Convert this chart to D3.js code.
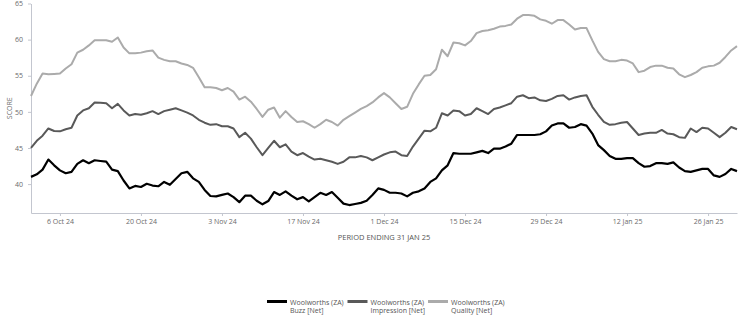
<!DOCTYPE html>
<html lang="en">

<head>
	<meta charset="UTF-8">
	<title>woolworths scores</title>
	<script src="https://cdn.jsdelivr.net/npm/d3@7" charset="UTF-8"></script>
	<style>
		body { margin: 0; background: #fff; }
		text { font-family: "Open Sans", sans-serif; }
	</style>
</head>

<body>
	<div id="chart"></div>

	<script type="text/javascript">
	// daily values, 1 Oct 24 .. 31 Jan 25
	let startDate = '2024-10-01';
	let endDate = '2025-01-31';

	let buzz = [
		41.0, 41.35, 42.0, 43.4, 42.6, 41.9, 41.5, 41.7, 42.8, 43.3,
		42.9, 43.3, 43.2, 43.1, 42.0, 41.8, 40.5, 39.4, 39.75, 39.6,
		40.05, 39.8, 39.7, 40.3, 39.9, 40.7, 41.5, 41.7, 40.8, 40.3,
		39.2, 38.35, 38.3, 38.5, 38.7, 38.2, 37.5, 38.4, 38.4, 37.7,
		37.2, 37.65, 38.9, 38.5, 39.0, 38.4, 37.9, 38.2, 37.6, 38.2,
		38.8, 38.5, 38.9, 38.1, 37.3, 37.1, 37.25, 37.4, 37.7, 38.5,
		39.4, 39.2, 38.8, 38.8, 38.7, 38.3, 38.8, 39.0, 39.4, 40.3,
		40.8, 41.9, 42.6, 44.3, 44.2, 44.2, 44.2, 44.4, 44.6, 44.3,
		44.9, 44.9, 45.2, 45.6, 46.8, 46.8, 46.8, 46.8, 46.9, 47.3,
		48.1, 48.4, 48.4, 47.8, 47.9, 48.3, 48.1, 47.0, 45.4, 44.7,
		43.9, 43.5, 43.5, 43.6, 43.6, 42.9, 42.4, 42.5, 42.9, 42.9,
		42.8, 43.0, 42.3, 41.8, 41.7, 41.9, 42.1, 42.1, 41.2, 41.0,
		41.4, 42.1, 41.8
	];

	let impression = [
		45.0, 46.0, 46.7, 47.7, 47.35, 47.3, 47.6, 47.8, 49.5, 50.2,
		50.5, 51.3, 51.25, 51.2, 50.5, 51.1, 50.2, 49.5, 49.7, 49.6,
		49.8, 50.1, 49.7, 50.1, 50.3, 50.5, 50.2, 49.9, 49.5, 48.9,
		48.5, 48.2, 48.3, 48.0, 48.0, 47.7, 46.5, 47.1, 46.3, 45.1,
		44.0, 45.0, 46.0, 45.1, 45.5, 44.5, 44.0, 44.3, 43.8, 43.4,
		43.5, 43.3, 43.1, 42.8, 43.1, 43.7, 43.7, 43.9, 43.7, 43.3,
		43.7, 44.1, 44.4, 44.5, 44.0, 43.9, 45.2, 46.3, 47.4, 47.3,
		47.8, 49.8, 49.5, 50.2, 50.1, 49.5, 49.7, 50.5, 50.1, 49.7,
		50.4, 50.6, 50.9, 51.2, 52.1, 52.3, 51.9, 52.0, 51.6, 51.5,
		51.8, 52.2, 52.3, 51.7, 52.0, 52.2, 52.3, 50.7, 49.6, 48.6,
		48.2, 48.3, 48.5, 48.6, 47.7, 46.8, 47.0, 47.1, 47.1, 47.5,
		47.0, 46.9, 46.5, 46.4, 47.7, 47.2, 47.8, 47.7, 47.1, 46.5,
		47.1, 47.9, 47.6
	];

	let quality = [
		52.2, 53.9, 55.3, 55.2, 55.25, 55.3, 56.0, 56.6, 58.2, 58.6,
		59.2, 59.9, 59.9, 59.9, 59.7, 60.3, 58.9, 58.1, 58.1, 58.2,
		58.4, 58.5, 57.5, 57.2, 57.0, 57.0, 56.7, 56.5, 56.1, 54.8,
		53.4, 53.4, 53.3, 53.0, 53.3, 52.8, 51.7, 52.1, 51.4, 50.4,
		49.3, 50.3, 50.6, 49.2, 50.1, 49.3, 48.6, 48.7, 48.3, 47.8,
		48.3, 48.9, 48.6, 48.1, 48.9, 49.4, 49.9, 50.4, 50.8, 51.3,
		52.0, 52.6, 52.0, 51.2, 50.4, 50.7, 52.5, 53.8, 55.0, 55.1,
		55.9, 58.6, 57.7, 59.6, 59.5, 59.2, 59.8, 60.9, 61.2, 61.3,
		61.5, 61.8, 61.9, 62.1, 62.9, 63.4, 63.4, 63.3, 62.8, 62.6,
		62.2, 62.7, 62.7, 62.1, 61.4, 61.6, 61.6, 59.9, 58.3, 57.3,
		57.0, 57.0, 57.2, 57.1, 56.7, 55.5, 55.7, 56.2, 56.4, 56.4,
		56.1, 56.0, 55.2, 54.8, 55.1, 55.5, 56.1, 56.3, 56.4, 56.8,
		57.6, 58.5, 59.1
	];

	let yTicks = [40, 45, 50, 55, 60, 65];
	let xTickDates = ['2024-10-06', '2024-10-20', '2024-11-03', '2024-11-17', '2024-12-01',
		'2024-12-15', '2024-12-29', '2025-01-12', '2025-01-26'];

	let seriesNames = ['Woolworths (ZA)|Buzz [Net]', 'Woolworths (ZA)|Impression [Net]', 'Woolworths (ZA)|Quality [Net]'];
	let seriesColors = ['#000000', '#595959', '#ababab'];

	let width = 747,
		height = 318;
	let plot = { left: 31, right: 737, top: 3.5, bottom: 213 };

	let parse = d3.utcParse('%Y-%m-%d');
	let t0 = parse(startDate);

	let svg = d3.select('#chart')
		.append('svg')
		.attr('width', width)
		.attr('height', height);

	let x = d3.scaleUtc()
		.domain([t0, parse(endDate)])
		.range([plot.left, plot.right]);
	let y = d3.scaleLinear()
		.domain([36, 65])
		.range([plot.bottom, plot.top]);

	let axisColor = '#c3c6cf';
	let labelColor = '#6b6b6b';

	// x axis
	let xAxis = svg.append('g')
		.attr('transform', `translate(0,${plot.bottom})`)
		.call(d3.axisBottom(x)
			.tickValues(xTickDates.map(parse))
			.tickFormat(d3.utcFormat('%-d %b %y'))
			.tickSize(3)
			.tickSizeOuter(0)
			.tickPadding(3));
	xAxis.select('.domain').attr('stroke', axisColor);
	xAxis.selectAll('.tick line').attr('stroke', axisColor);
	xAxis.selectAll('.tick text').attr('fill', labelColor).attr('font-size', '7px');

	// y axis
	let yAxis = svg.append('g')
		.attr('transform', `translate(${plot.left},0)`)
		.call(d3.axisLeft(y)
			.tickValues(yTicks)
			.tickSize(3)
			.tickSizeOuter(0)
			.tickPadding(5));
	yAxis.select('.domain').attr('stroke', axisColor);
	yAxis.selectAll('.tick line').attr('stroke', axisColor);
	yAxis.selectAll('.tick text').attr('fill', labelColor).attr('font-size', '7px');

	svg.append('text')
		.attr('transform', `translate(12,${(plot.top + plot.bottom) / 2}) rotate(-90)`)
		.attr('text-anchor', 'middle')
		.attr('fill', labelColor)
		.attr('font-size', '7px')
		.text('SCORE');

	svg.append('text')
		.attr('x', 384)
		.attr('y', 240)
		.attr('text-anchor', 'middle')
		.attr('fill', '#555')
		.attr('font-size', '7.5px')
		.text('PERIOD ENDING 31 JAN 25');

	// lines
	let line = d3.line()
		.x((d, i) => x(d3.utcDay.offset(t0, i)))
		.y(d => y(d));

	let allSeries = [buzz, impression, quality];
	svg.selectAll('path.series')
		.data(allSeries.slice().reverse())
		.enter()
		.append('path')
		.attr('class', 'series')
		.attr('fill', 'none')
		.attr('stroke', (d, i) => seriesColors[2 - i])
		.attr('stroke-width', (d, i) => i == 2 ? 2.2 : 2)
		.attr('stroke-linejoin', 'round')
		.attr('d', line);

	// legend
	let legend = svg.selectAll('g.legend')
		.data(seriesNames)
		.enter()
		.append('g')
		.attr('class', 'legend')
		.attr('transform', (d, i) => `translate(${267 + i * 80.5},0)`);
	legend.append('rect')
		.attr('x', 0)
		.attr('y', 300)
		.attr('width', 20)
		.attr('height', 3)
		.attr('fill', (d, i) => seriesColors[i]);
	legend.append('text')
		.attr('x', 23)
		.attr('y', 305)
		.attr('fill', '#555')
		.attr('font-size', '7px')
		.text(d => d.split('|')[0]);
	legend.append('text')
		.attr('x', 23)
		.attr('y', 313)
		.attr('fill', '#555')
		.attr('font-size', '7px')
		.text(d => d.split('|')[1]);
	</script>
</body>

</html>
